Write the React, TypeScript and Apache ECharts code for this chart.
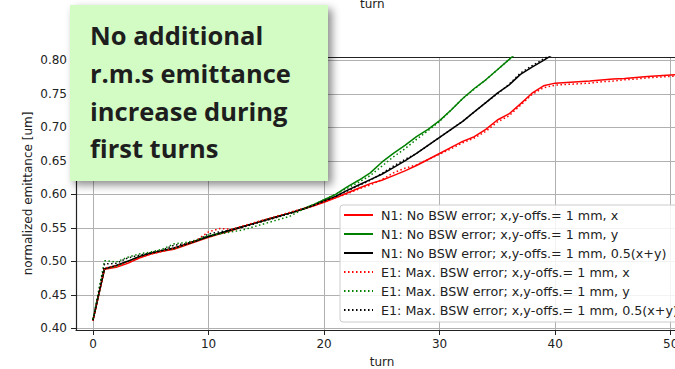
import React, { useEffect, useRef } from "react";
import * as echarts from "echarts";

const turnsX = [0,1,2,3,4,5,6,7,8,9,10,11,12,13,14,15,16,17,18,19,20,21,22,23,24,25,26,27,28,29,30,31,32,33,34,35,36,37,38,39,40,41,42,43,44,45,46,47,48,49,50,51];
const turnsY = turnsX.slice(0, 38);
const turnsXY = turnsX.slice(0, 41);

const n1X = [0.412,0.488,0.491,0.497,0.505,0.511,0.515,0.518,0.524,0.530,0.536,0.541,0.546,0.552,0.557,0.562,0.567,0.572,0.577,0.582,0.588,0.595,0.602,0.609,0.616,0.621,0.628,0.635,0.643,0.652,0.661,0.670,0.679,0.686,0.697,0.711,0.720,0.735,0.751,0.762,0.766,0.767,0.768,0.769,0.7705,0.772,0.773,0.7745,0.776,0.777,0.778,0.779];
const n1Y = [0.413,0.489,0.493,0.500,0.507,0.512,0.516,0.519,0.525,0.531,0.537,0.542,0.547,0.552,0.557,0.562,0.567,0.572,0.577,0.584,0.592,0.600,0.611,0.621,0.632,0.648,0.661,0.673,0.686,0.697,0.710,0.726,0.743,0.758,0.771,0.786,0.801,0.817];
const n1XY = [0.412,0.489,0.494,0.500,0.507,0.512,0.516,0.520,0.525,0.531,0.537,0.542,0.547,0.552,0.557,0.562,0.567,0.572,0.577,0.583,0.590,0.597,0.606,0.614,0.622,0.630,0.640,0.650,0.661,0.673,0.685,0.697,0.709,0.723,0.737,0.751,0.763,0.779,0.790,0.800,0.811];
const e1X = [0.411,0.490,0.493,0.498,0.505,0.511,0.515,0.519,0.525,0.532,0.544,0.549,0.548,0.553,0.558,0.563,0.568,0.573,0.578,0.583,0.589,0.595,0.601,0.608,0.614,0.622,0.632,0.639,0.644,0.652,0.660,0.668,0.677,0.684,0.694,0.708,0.717,0.733,0.749,0.759,0.763,0.764,0.765,0.766,0.768,0.769,0.771,0.772,0.774,0.775,0.776,0.777];
const e1Y = [0.413,0.501,0.499,0.506,0.511,0.514,0.518,0.526,0.528,0.532,0.539,0.541,0.544,0.547,0.552,0.557,0.562,0.567,0.576,0.584,0.592,0.600,0.609,0.618,0.628,0.642,0.656,0.668,0.682,0.695,0.709,0.726,0.743,0.757,0.771,0.786,0.801,0.817];
const e1XY = [0.412,0.496,0.497,0.505,0.509,0.513,0.517,0.524,0.526,0.531,0.541,0.544,0.547,0.551,0.556,0.561,0.566,0.571,0.577,0.583,0.590,0.597,0.605,0.613,0.621,0.631,0.642,0.652,0.661,0.673,0.685,0.697,0.709,0.723,0.737,0.750,0.764,0.781,0.792,0.802,0.812];

const xTicks = [0, 10, 20, 30, 40, 50];
const yTicks = [0.40, 0.45, 0.50, 0.55, 0.60, 0.65, 0.70, 0.75, 0.80];

const seriesNames = [
  "N1: No BSW error; x,y-offs.= 1 mm, x",
  "N1: No BSW error; x,y-offs.= 1 mm, y",
  "N1: No BSW error; x,y-offs.= 1 mm, 0.5(x+y)",
  "E1: Max. BSW error; x,y-offs.= 1 mm, x",
  "E1: Max. BSW error; x,y-offs.= 1 mm, y",
  "E1: Max. BSW error; x,y-offs.= 1 mm, 0.5(x+y)",
];
const noteLines = ["No additional", "r.m.s emittance", "increase during", "first turns"];

const FONT = "DejaVu Sans";

export default function App() {
  const ref = useRef<HTMLDivElement>(null);
  useEffect(() => {
    if (!ref.current) return;
    const chart = echarts.init(ref.current, null, { renderer: "svg" });
    const pair = (t: number[], v: number[]) => t.map((x, i) => [x, v[i]]);
    const defs = [
      { t: turnsX, v: n1X, c: "#ff0000", dot: false },
      { t: turnsY, v: n1Y, c: "#008000", dot: false },
      { t: turnsXY, v: n1XY, c: "#000000", dot: false },
      { t: turnsX, v: e1X, c: "#ff0000", dot: true },
      { t: turnsY, v: e1Y, c: "#008000", dot: true },
      { t: turnsXY, v: e1XY, c: "#000000", dot: true },
    ];
    chart.setOption({
      animation: false,
      grid: { left: 76, right: -13, top: 57, bottom: 39, containLabel: false, outerBoundsMode: "none" },
      xAxis: [
        {
          type: "value",
          min: -1.47,
          max: 51.5,
          name: "turn",
          nameLocation: "middle",
          nameGap: 26,
          nameMoveOverlap: false,
          nameTextStyle: { fontFamily: FONT, fontSize: 12, lineHeight: 12, color: "#222" },
          axisLine: { show: true, onZero: false, lineStyle: { color: "#222", width: 1.2 } },
          axisTick: { show: true, customValues: xTicks, length: 5, lineStyle: { color: "#222" } },
          axisLabel: { customValues: xTicks, fontFamily: FONT, fontSize: 12, color: "#222", margin: 8 },
          splitLine: { show: true, lineStyle: { color: "#b0b0b0", width: 1 } },
        },
        {
          type: "value",
          position: "top",
          min: -1.47,
          max: 51.5,
          axisLine: { show: true, onZero: false, lineStyle: { color: "#222", width: 1.2 } },
          axisTick: { show: false },
          axisLabel: { show: false },
          splitLine: { show: false },
        },
      ],
      yAxis: {
        type: "value",
        min: 0.3975,
        max: 0.805,
        name: "normalized emittance [um]",
        nameLocation: "middle",
        nameGap: 42,
        nameMoveOverlap: false,
        nameTextStyle: { fontFamily: FONT, fontSize: 12, color: "#222" },
        axisLine: { show: true, onZero: false, lineStyle: { color: "#222", width: 1.2 } },
        axisTick: { show: true, customValues: yTicks, length: 5, lineStyle: { color: "#222" } },
        axisLabel: {
          customValues: yTicks,
          fontFamily: FONT,
          fontSize: 12,
          color: "#222",
          margin: 9,
          formatter: (v: number) => v.toFixed(2),
        },
        splitLine: { show: true, lineStyle: { color: "#b0b0b0", width: 1 } },
      },
      legend: {
        orient: "vertical",
        left: 340,
        top: 205,
        width: 400,
        padding: [3, 6, 5, 3],
        itemGap: 5,
        itemWidth: 29,
        itemHeight: 14,
        backgroundColor: "rgba(255,255,255,0.85)",
        borderColor: "#cccccc",
        borderWidth: 1,
        borderRadius: 3,
        itemStyle: { color: "rgba(0,0,0,0)", borderWidth: 0, opacity: 0 },
        textStyle: { fontFamily: FONT, fontSize: 12.7, lineHeight: 14, color: "#222", padding: [0, 0, 0, 3] },
        data: seriesNames,
      },
      series: defs.map((d, i) => ({
        name: seriesNames[i],
        type: "line",
        data: pair(d.t, d.v),
        showSymbol: false,
        symbol: "none",
        clip: true,
        lineStyle: { color: d.c, width: 1.5, type: d.dot ? [1.5, 2.5] : "solid" },
        itemStyle: { color: d.c },
        z: 2 + i,
      })),
      graphic: [
        {
          type: "text",
          left: 360,
          top: -2,
          style: { text: "turn", font: `12px '${FONT}'`, fill: "#222" },
        },
        {
          type: "rect",
          shape: { x: 70, y: 5, width: 258, height: 176 },
          style: {
            fill: "#d2fcc4",
            shadowBlur: 8,
            shadowOffsetX: 4,
            shadowOffsetY: 4,
            shadowColor: "rgba(0,0,0,0.45)",
          },
          z: 100,
        },
        {
          type: "text",
          x: 90,
          y: 16,
          style: {
            text: noteLines.join("\n"),
            font: "bold 25.5px 'Open Sans'",
            lineHeight: 37.8,
            fill: "#1e1e1e",
          },
          z: 101,
        },
      ],
    });
    return () => chart.dispose();
  }, []);
  return <div ref={ref} style={{ width: 675, height: 369, position: "absolute", left: 0, top: 0 }} />;
}
